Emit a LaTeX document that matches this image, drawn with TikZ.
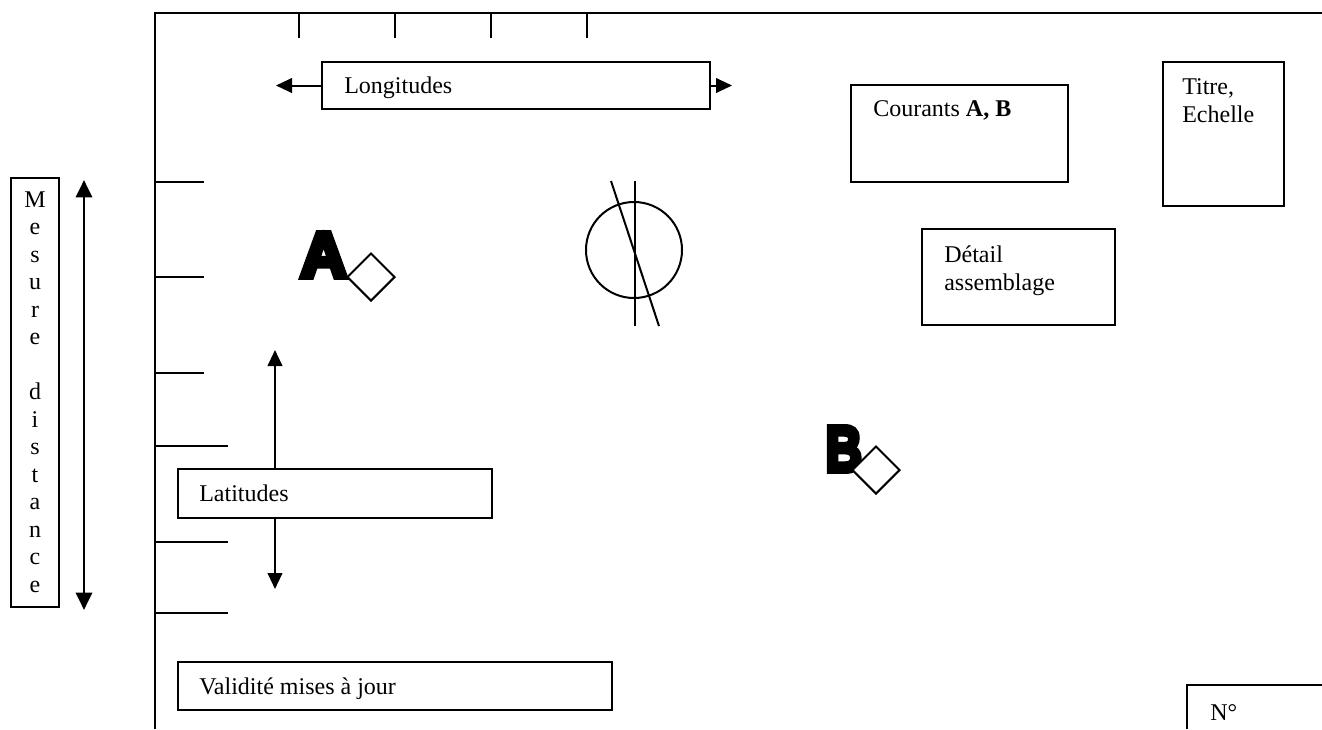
\documentclass[tikz,border=0pt]{standalone}
\usepackage{fontspec}
\setmainfont{Liberation Serif}
\newfontfamily\heavyfont[FakeBold=9]{Liberation Sans Bold}
\usetikzlibrary{arrows.meta,shapes.geometric,fit}
\begin{document}
\begin{tikzpicture}[x=0.75pt,y=-0.75pt,
  every node/.style={font=\fontsize{18}{21}\selectfont},
  frame/.style={line width=1.7pt},
  tick/.style={line width=1.5pt},
  box/.style={draw,line width=1.5pt,inner sep=0pt},
  lbl/.style={anchor=base west,inner sep=0pt},
  arr/.style={line width=1.5pt,-{Triangle[length=12pt,width=11pt]}},
  darr/.style={line width=2.2pt,{Triangle[length=13pt,width=12pt]}-{Triangle[length=13pt,width=12pt]}},
  big/.style={inner sep=0pt,font=\heavyfont\fontsize{48}{48}\selectfont},
  dia/.style={diamond,draw,fill=white,line width=1.5pt,inner sep=0pt,minimum width=36pt,minimum height=36pt},
  lett/.style={anchor=base,inner sep=0pt}]
\useasboundingbox (0,0) rectangle (1322,729);
% frame
\draw[frame] (155,729) -- (155,13) -- (1322,13);
\foreach \x in {299,395,491,587} \draw[tick] (\x,13) -- (\x,38);
\foreach \y in {182,277,373} \draw[tick] (155,\y) -- (204,\y);
\foreach \y in {446,542,613} \draw[tick] (155,\y) -- (228,\y);
% Longitudes
\node[box,fit={(322,62)(710,109)}] (lon) {};
\node[lbl] (lont) at (344,93) {Longitudes};
\coordinate (lonL) at (276,86);
\coordinate (lonR) at (732,86);
\draw[arr] (lon.west) -- (lon.west -| lonL);
\draw[arr] (lon.east) -- (lon.east -| lonR);
% Courants
\node[box,fit={(851,85)(1068,182)}] (cour) {};
\node[lbl] (court) at (873,116) {Courants \textbf{A, B}};
% Titre
\node[box,fit={(1163,62)(1284,206)}] (titre) {};
\node[lbl] (titret1) at (1182,94) {Titre,};
\node[lbl] (titret2) at (1182,122) {Echelle};
% Detail
\node[box,fit={(922,229)(1115,325)}] (det) {};
\node[lbl] (dett1) at (944,262) {Détail};
\node[lbl] (dett2) at (944,290) {assemblage};
% Mesure distance
\node[box,fit={(11,178)(59,607)}] (mes) {};
\foreach \l [count=\i from 0] in {M,e,s,u,r,e,{},d,i,s,t,a,n,c,e}
  \node[lett] (m\i) at (35,{207+27.5*\i}) {\l};
\coordinate (mesT) at (84,180);
\coordinate (mesB) at (84,610);
\draw[darr] (mesT) -- (mesB);
% A and B
\node[big,anchor=base east] (Aletter) at (347,277) {A};
\node[dia] (diaA) at (371,277) {};
\node[big,anchor=base east] (Bletter) at (862,471) {\scalebox{0.78}[1]{B}};
\node[dia] (diaB) at (876,470) {};
% compass
\node[circle,draw,line width=1.5pt,minimum size=72pt,inner sep=0pt] (comp) at (634,250) {};
\draw[tick] (635,181) -- (635,326);
\draw[tick] (611,181) -- (659,326);
% Latitudes
\node[box,fit={(178,469)(492,518)}] (lat) {};
\node[lbl] (latt) at (199,501) {Latitudes};
\coordinate (latU) at (275,350);
\coordinate (latD) at (275,589);
\draw[arr] (lat.north -| latU) -- (latU);
\draw[arr] (lat.south -| latD) -- (latD);
% Validite
\node[box,fit={(178,662)(612,710)}] (val) {};
\node[lbl] (valt) at (199,694) {Validité mises à jour};
% N
\draw[tick] (1187,729) -- (1187,685) -- (1322,685);
\node[lbl] (num) at (1210,720) {N°};
\end{tikzpicture}
\end{document}
